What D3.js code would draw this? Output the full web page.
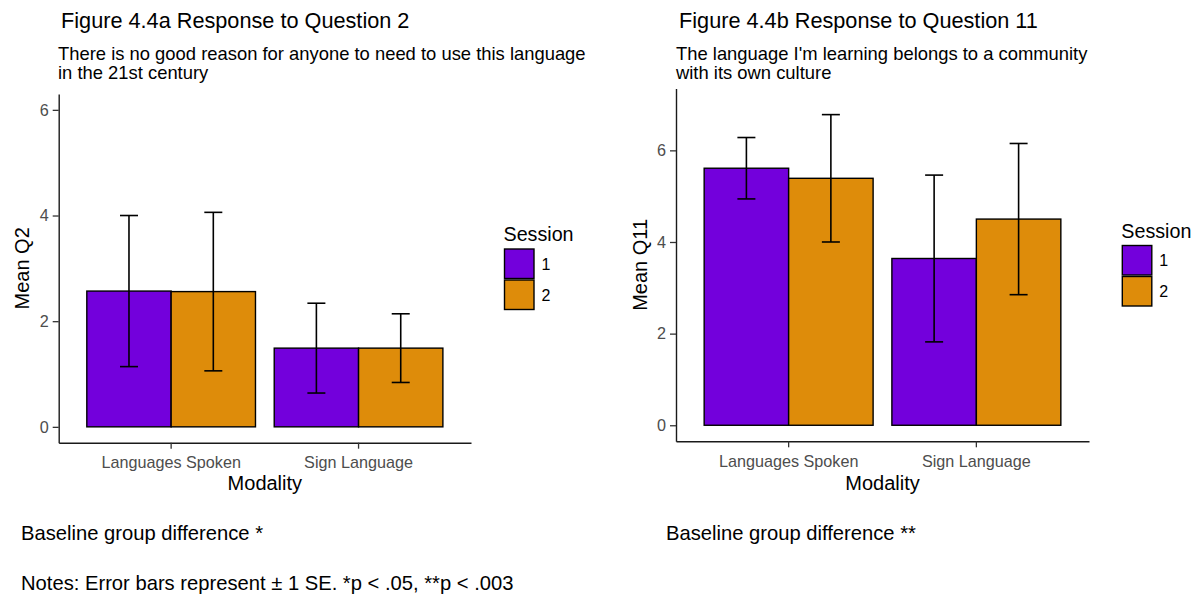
<!DOCTYPE html>
<html>
<head>
<meta charset="utf-8">
<script src="https://cdn.jsdelivr.net/npm/d3@7/dist/d3.min.js"></script>
<style>
  html, body { margin: 0; padding: 0; background: #fff; }
  svg { display: block; font-family: "Liberation Sans", Arial, Helvetica, sans-serif; }
</style>
</head>
<body>
<svg id="chart" width="1199" height="595"></svg>
<script>
// Modality categories and the two sessions
const modalities = ["Languages Spoken", "Sign Language"];
const sessions = ["1", "2"];

// Question 2: mean rating and standard error per modality
const q2Session1Mean = [2.57, 1.49];
const q2Session2Mean = [2.56, 1.49];
const q2Session1SE = [1.43, 0.85];
const q2Session2SE = [1.50, 0.65];

// Question 11: mean rating and standard error per modality
const q11Session1Mean = [5.61, 3.64];
const q11Session2Mean = [5.39, 4.50];
const q11Session1SE = [0.67, 1.82];
const q11Session2SE = [1.39, 1.65];

// Axis ticks and limits
const q2Ticks = [0, 2, 4, 6];
const q11Ticks = [0, 2, 4, 6];
const q2Limits = [0, 6];
const q11Limits = [0, 7];

const sessionColors = ["#7300DC", "#DE8C0A"];

const svg = d3.select("#chart");

function buildRows(m1, m2, se1, se2) {
  const rows = [];
  modalities.forEach((mod, i) => {
    rows.push({ modality: mod, session: sessions[0], mean: m1[i], se: se1[i] });
    rows.push({ modality: mod, session: sessions[1], mean: m2[i], se: se2[i] });
  });
  return rows;
}

function drawPanel(cfg) {
  const g = svg.append("g");
  const [lo, hi] = cfg.limits;
  const pad = (hi - lo) * 0.05;

  const y = d3.scaleLinear()
    .domain([lo - pad, hi + pad])
    .range([cfg.bottom, cfg.top]);

  // ggplot-style discrete axis: 0.6 units of expansion, bars 0.9 wide
  const x = d3.scaleBand()
    .domain(modalities)
    .range([cfg.left, cfg.right])
    .paddingInner(0.1)
    .paddingOuter(0.15);

  const xs = d3.scaleBand()
    .domain(sessions)
    .range([0, x.bandwidth()]);

  const color = d3.scaleOrdinal().domain(sessions).range(sessionColors);

  // Title and subtitle
  g.append("text")
    .attr("x", cfg.titleX).attr("y", 28)
    .attr("font-size", 21.7).attr("fill", "#000")
    .text(cfg.title);
  cfg.subtitle.forEach((line, i) => {
    g.append("text")
      .attr("x", cfg.titleX - 3).attr("y", 60 + i * 19)
      .attr("font-size", 18.4).attr("fill", "#000")
      .text(line);
  });

  // Bars
  g.selectAll("rect.bar")
    .data(cfg.rows)
    .join("rect")
    .attr("class", "bar")
    .attr("x", d => x(d.modality) + xs(d.session))
    .attr("width", xs.bandwidth())
    .attr("y", d => y(d.mean))
    .attr("height", d => y(0) - y(d.mean))
    .attr("fill", d => color(d.session))
    .attr("stroke", "#000")
    .attr("stroke-width", 1.4);

  // Error bars (±1 SE)
  const capHalf = 9;
  const cx = d => x(d.modality) + xs(d.session) + xs.bandwidth() / 2;
  const eb = g.selectAll("g.err")
    .data(cfg.rows)
    .join("g")
    .attr("class", "err")
    .attr("stroke", "#000")
    .attr("stroke-width", 1.6)
    .attr("fill", "none");
  eb.append("line")
    .attr("x1", cx).attr("x2", cx)
    .attr("y1", d => y(d.mean - d.se))
    .attr("y2", d => y(d.mean + d.se));
  eb.append("line")
    .attr("x1", d => cx(d) - capHalf).attr("x2", d => cx(d) + capHalf)
    .attr("y1", d => y(d.mean + d.se))
    .attr("y2", d => y(d.mean + d.se));
  eb.append("line")
    .attr("x1", d => cx(d) - capHalf).attr("x2", d => cx(d) + capHalf)
    .attr("y1", d => y(d.mean - d.se))
    .attr("y2", d => y(d.mean - d.se));

  // Y axis
  const yAxis = g.append("g")
    .attr("transform", `translate(${cfg.left},0)`)
    .call(d3.axisLeft(y).tickValues(cfg.ticks).tickFormat(d3.format("d"))
      .tickSize(6).tickSizeOuter(0).tickPadding(4));
  // X axis
  const xAxis = g.append("g")
    .attr("transform", `translate(0,${cfg.bottom})`)
    .call(d3.axisBottom(x).tickSize(6).tickSizeOuter(0).tickPadding(5));

  [yAxis, xAxis].forEach(ax => {
    ax.attr("font-family", null).attr("font-size", null);
    ax.select(".domain").attr("stroke", "#1a1a1a").attr("stroke-width", 1.4);
    ax.selectAll(".tick line").attr("stroke", "#333").attr("stroke-width", 1.3);
    ax.selectAll(".tick text").attr("fill", "#4d4d4d").attr("font-size", 16.2);
  });
  xAxis.selectAll(".tick text").attr("dy", "0.9em");

  // Axis titles
  g.append("text")
    .attr("x", (cfg.left + cfg.right) / 2).attr("y", 490)
    .attr("text-anchor", "middle").attr("font-size", 20)
    .text("Modality");
  g.append("text")
    .attr("transform", `translate(${cfg.yTitleX},${(cfg.top + cfg.bottom) / 2}) rotate(-90)`)
    .attr("text-anchor", "middle").attr("font-size", 20)
    .text(cfg.yTitle);

  // Legend
  const leg = g.append("g").attr("transform", `translate(${cfg.legendX},${cfg.legendY})`);
  leg.append("text").attr("x", -1).attr("y", -8).attr("font-size", 19.7).text("Session");
  sessions.forEach((s, i) => {
    leg.append("rect")
      .attr("x", 0).attr("y", i * 31)
      .attr("width", 29.5).attr("height", 29.5)
      .attr("fill", color(s)).attr("stroke", "#000").attr("stroke-width", 1.4);
    leg.append("text")
      .attr("x", 37).attr("y", i * 31 + 15).attr("dy", "0.35em")
      .attr("font-size", 16).text(s);
  });

  // Footnote for the panel
  g.append("text")
    .attr("x", cfg.noteX).attr("y", 540)
    .attr("font-size", 20.2).text(cfg.note);
}

drawPanel({
  title: "Figure 4.4a Response to Question 2",
  subtitle: ["There is no good reason for anyone to need to use this language", "in the 21st century"],
  titleX: 61,
  rows: buildRows(q2Session1Mean, q2Session2Mean, q2Session1SE, q2Session2SE),
  limits: q2Limits, ticks: q2Ticks,
  left: 58.7, right: 471, top: 94, bottom: 442.7,
  yTitle: "Mean Q2", yTitleX: 29,
  legendX: 504.5, legendY: 249,
  note: "Baseline group difference *", noteX: 21
});

drawPanel({
  title: "Figure 4.4b Response to Question 11",
  subtitle: ["The language I'm learning belongs to a community", "with its own culture"],
  titleX: 679,
  rows: buildRows(q11Session1Mean, q11Session2Mean, q11Session1SE, q11Session2SE),
  limits: q11Limits, ticks: q11Ticks,
  left: 676, right: 1089, top: 88.5, bottom: 441.3,
  yTitle: "Mean Q11", yTitleX: 647,
  legendX: 1122.3, legendY: 245.5,
  note: "Baseline group difference **", noteX: 666
});

// Shared note under both panels
svg.append("text")
  .attr("x", 21).attr("y", 590)
  .attr("font-size", 20.2)
  .text("Notes: Error bars represent \u00b1 1 SE. *p < .05, **p < .003");
</script>
</body>
</html>
